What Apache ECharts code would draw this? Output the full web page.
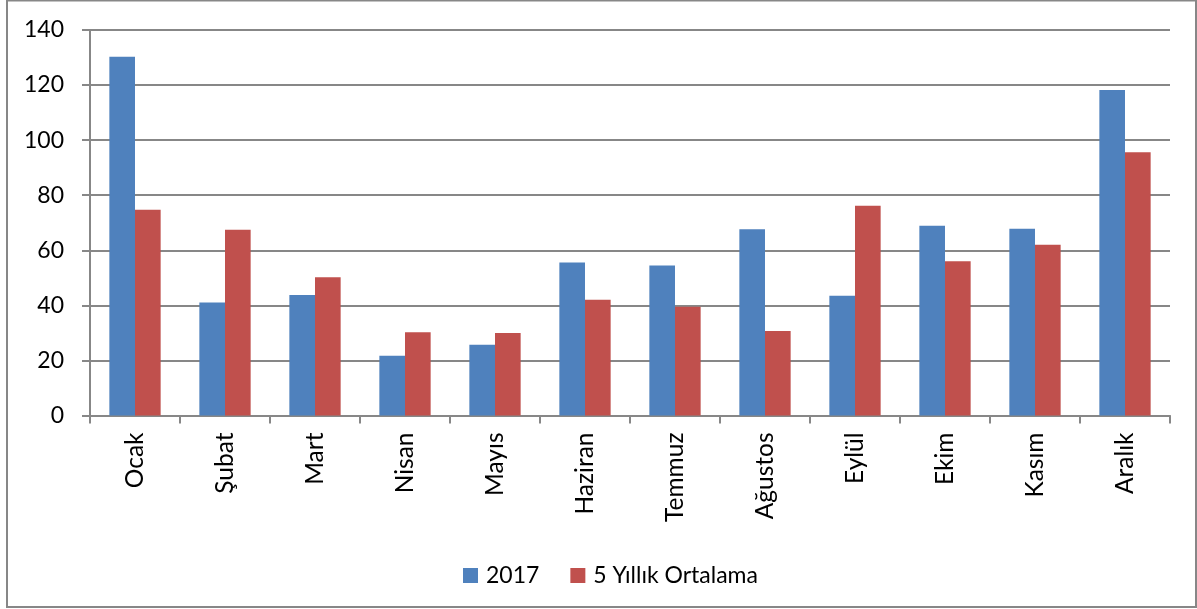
<!DOCTYPE html>
<html>
<head>
<meta charset="utf-8">
<script src="https://cdn.jsdelivr.net/npm/echarts@6/dist/echarts.min.js"></script>
<style>
html,body{margin:0;padding:0;background:#fff;}
#chart{width:1197px;height:609px;}
</style>
</head>
<body>
<div id="chart"></div>
<script>
const months = ['Ocak','Şubat','Mart','Nisan','Mayıs','Haziran','Temmuz','Ağustos','Eylül','Ekim','Kasım','Aralık'];
const series2017 = [130.3, 41.0, 43.8, 21.7, 25.7, 55.6, 54.5, 67.6, 43.5, 68.9, 67.8, 118.2];
const seriesAvg = [74.7, 67.5, 50.2, 30.2, 30.0, 42.0, 39.5, 30.7, 76.2, 56.0, 62.0, 95.6];
const seriesNames = ['2017', '5 Yıllık Ortalama'];
const yTicks = [0, 20, 40, 60, 80, 100, 120, 140];

const FONT = 'Lato, "Open Sans", sans-serif';
const GRAY = '#878787';
const chart = echarts.init(document.getElementById('chart'));
chart.setOption({
  animation: false,
  textStyle: {fontFamily: FONT},
  graphic: [{
    type: 'rect',
    shape: {x: 7, y: 0.5, width: 1189, height: 606.5},
    style: {fill: null, stroke: GRAY, lineWidth: 2},
    silent: true
  }],
  legend: {
    left: 458, top: 559,
    itemWidth: 15, itemHeight: 15, itemGap: 31,
    icon: 'rect',
    textStyle: {fontFamily: FONT, fontSize: 23, color: '#000', padding: [0,0,0,3]},
    data: seriesNames
  },
  grid: {left: 90, right: 27, top: 30, bottom: 193.5, containLabel: false},
  xAxis: {
    type: 'category',
    data: months,
    boundaryGap: true,
    axisLine: {show: true, lineStyle: {color: GRAY, width: 2}},
    axisTick: {show: true, length: 8, lineStyle: {color: GRAY, width: 2}},
    axisLabel: {rotate: 90, margin: 17, fontFamily: FONT, fontSize: 24.5, color: '#000'}
  },
  yAxis: {
    type: 'value',
    min: yTicks[0], max: yTicks[yTicks.length-1], interval: 20,
    axisLine: {show: true, lineStyle: {color: GRAY, width: 2}},
    axisTick: {show: true, length: 8, lineStyle: {color: GRAY, width: 2}},
    splitLine: {show: true, lineStyle: {color: GRAY, width: 2}},
    axisLabel: {margin: 26, fontFamily: FONT, fontSize: 23, color: '#000'}
  },
  series: [
    {name: seriesNames[0], type: 'bar', data: series2017, barGap: '0%', barCategoryGap: '43%',
     itemStyle: {color: '#4F81BD'}},
    {name: seriesNames[1], type: 'bar', data: seriesAvg, barGap: '0%', barCategoryGap: '43%',
     itemStyle: {color: '#C0504D'}}
  ]
});
</script>
</body>
</html>
